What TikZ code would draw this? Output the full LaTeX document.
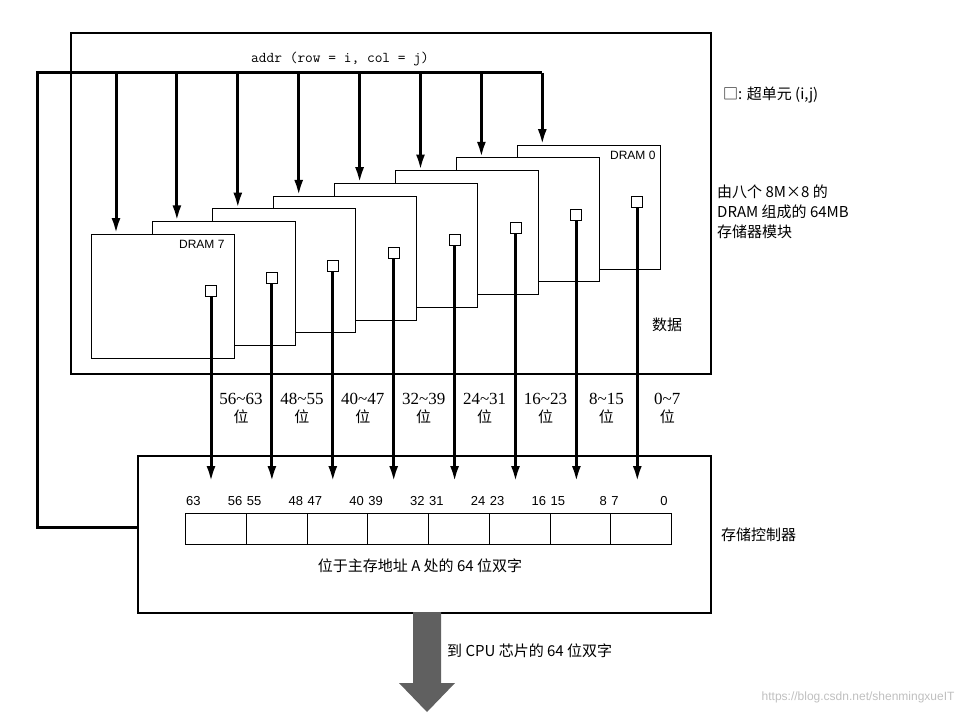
\documentclass[tikz,border=0pt]{standalone}
\usepackage{fontspec}
\setsansfont{Liberation Sans}
\newfontfamily\cjk{Noto Sans CJK SC}
\usetikzlibrary{arrows.meta,calc}
\tikzset{>={Latex[length=16pt,width=9pt]}}

\begin{document}
\begin{tikzpicture}[x=1pt,y=-1pt,
    bus/.style={line width=3pt},
    chip/.style={draw,fill=white,line width=0.8pt},
    pin/.style={draw,fill=white,line width=1pt,minimum size=11pt,inner sep=0pt},
    lbl/.style={font=\cjk\fontsize{15}{18}\selectfont,align=center,inner sep=1pt}]
    \useasboundingbox (0,0) rectangle (962,717);
    % memory module
    \draw[line width=1.5pt] (71,33) rectangle (711,374);
    \node[font=\ttfamily\fontsize{15}{18}\selectfont] (addr) at (340,59) {addr (row = i, col = j)};
    % controller
    \node[draw,line width=1.5pt,minimum width=573pt,minimum height=157pt,anchor=north west,inner sep=0pt] (ctrl) at (137,455) {};
    % chips, back to front
    \foreach \i in {0,...,7} {
        \pgfmathsetmacro{\cx}{91+60.9*(7-\i)}
        \pgfmathsetmacro{\cy}{234-12.7*(7-\i)}
        \draw[chip] (\cx,\cy) rectangle ++(143,124);
        \coordinate (top\i) at (\cx+25,\cy);
        \node[pin] (pin\i) at (\cx+120,\cy+57) {};
        \coordinate (in\i) at (\cx+120,482);
    }
    \node[font=\sffamily\fontsize{12}{14}\selectfont,anchor=north east] at (659,148) {DRAM 0};
    \node[font=\sffamily\fontsize{12}{14}\selectfont,anchor=north east] at (228,237) {DRAM 7};
    % address bus
    \coordinate (busL) at (37,73);
    \coordinate (busR) at (top0 |- busL);
    \coordinate (busB) at (37,527);
    \draw[bus] (busR) -- (busL) -- (busB) -- (ctrl.west |- busB);
    \foreach \i in {0,...,7}
        \draw[bus,->] (top\i |- busL) -- (top\i);
    % data lines
    \foreach \i/\t in {7/56\textasciitilde63,6/48\textasciitilde55,5/40\textasciitilde47,4/32\textasciitilde39,3/24\textasciitilde31,2/16\textasciitilde23,1/8\textasciitilde15,0/0\textasciitilde7} {
        \draw[bus,->] (pin\i) -- (in\i);
        \node[lbl,fill=white] at ($(in\i)+(30,-74)$) {\fontspec{Liberation Serif}\fontsize{17}{20}\selectfont\t\\位};
    }
    % 64-bit register
    \foreach \k in {0,...,7} {
        \pgfmathtruncatemacro{\hi}{63-8*\k}
        \pgfmathtruncatemacro{\lo}{56-8*\k}
        \node[draw,line width=0.8pt,minimum width=60.75pt,minimum height=31pt,anchor=north west,inner sep=0pt] (cell\k) at (185+60.75*\k,513) {};
        \node[font=\sffamily\fontsize{13}{15}\selectfont,anchor=south west,inner sep=0pt] at ($(cell\k.north west)+(1,-7)$) {\hi};
        \node[font=\sffamily\fontsize{13}{15}\selectfont,anchor=south east,inner sep=0pt] at ($(cell\k.north east)+(-4,-7)$) {\lo};
    }
    \node[lbl] (word) at (420,566) {位于主存地址 A 处的 64 位双字};
    % output arrow
    \fill[gray!75!black] (413,612) -- (441,612) -- (441,683) -- (455,683) -- (427,712) -- (399,683) -- (413,683) -- cycle;
    \node[lbl,anchor=west] (out) at (446,651) {到 CPU 芯片的 64 位双字};
    % side labels
    \node[lbl,anchor=west] (super) at (722,95) {□: 超单元 (i,j)};
    \node[lbl,anchor=north west,align=left] (mod) at (716,184) {由八个 8M×8 的\\[2pt]DRAM 组成的 64MB\\[2pt]存储器模块};
    \node[lbl] (data) at (667,325) {数据};
    \node[lbl,anchor=west] (ctl) at (720,535) {存储控制器};
    \node[font=\sffamily\fontsize{12}{14}\selectfont,text=gray!50,anchor=east] at (958,697) {https://blog.csdn.net/shenmingxueIT};
\end{tikzpicture}
\end{document}
